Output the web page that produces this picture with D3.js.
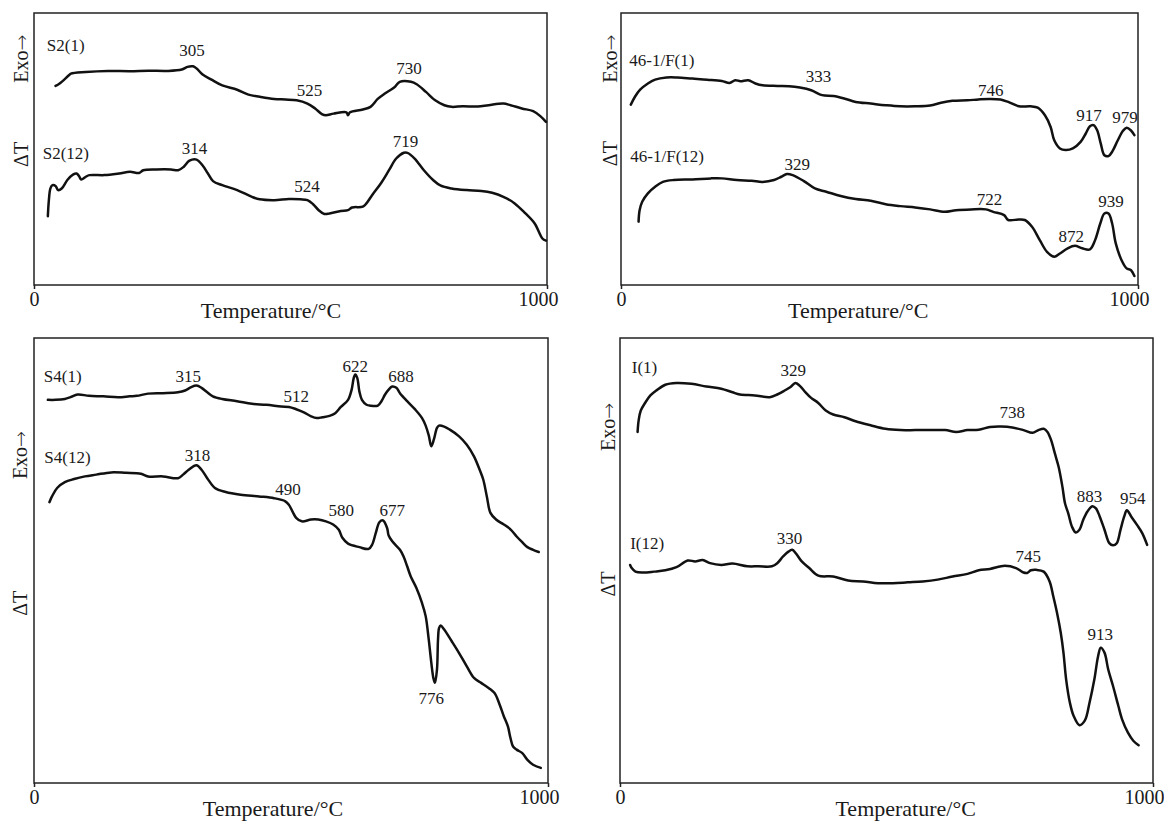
<!DOCTYPE html>
<html>
<head>
<meta charset="utf-8">
<script src="https://cdn.jsdelivr.net/npm/d3@7"></script>
<style>
  html, body { margin: 0; padding: 0; background: #fff; }
  text { font-family: "Liberation Serif", "Times New Roman", serif; fill: #1a1a1a; }
</style>
</head>
<body>
<div id="chart"></div>
<script>
const width = 1164;
const height = 824;

// temperature (°C) vs ΔT (arbitrary units, 0 = bottom of frame, 100 = top)
const xTicks = [0, 1000];

// ----- S2 -----
const s2_1 = [[42,73.2],[50,74.1],[68,77.1],[72,77.7],[101,78.3],[144,78.7],[187,78.6],[223,78.8],[259,78.7],[288,79.2],[299,80.2],[310,80.4],[317,79.6],[328,77.5],[346,75.5],[367,73.4],[396,71.8],[418,70.0],[440,69.2],[468,68.4],[490,68.2],[512,67.9],[533,66.7],[548,64.9],[562,62.7],[569,62.4],[584,63.0],[609,63.5],[612,62.4],[616,63.5],[641,64.5],[656,65.5],[670,68.4],[684,70.4],[702,72.6],[713,74.7],[735,74.7],[746,73.8],[764,71.0],[782,67.9],[800,66.1],[814,65.5],[836,65.7],[865,65.6],[886,66.1],[915,66.7],[929,66.1],[951,64.9],[973,63.9],[987,62.1],[998,60.0]];
const s2_12 = [[27,25.3],[29,31.2],[32,35.5],[36,36.7],[42,36.4],[47,34.9],[54,35.5],[65,38.6],[76,40.6],[83,41.0],[88,40.0],[92,38.8],[101,39.8],[108,40.4],[137,40.4],[166,41.0],[187,41.6],[205,41.2],[213,42.2],[238,42.5],[267,42.5],[281,42.2],[292,43.5],[303,45.7],[317,46.1],[328,44.1],[339,41.0],[349,38.2],[367,36.7],[396,34.9],[425,32.4],[440,31.5],[468,31.2],[497,31.6],[519,31.5],[533,31.2],[544,29.7],[555,27.5],[566,26.1],[576,26.3],[598,27.2],[612,27.5],[620,28.5],[641,28.8],[648,30.0],[659,33.0],[677,37.6],[692,42.2],[706,46.5],[721,48.6],[728,48.6],[742,46.5],[760,42.2],[778,38.6],[793,36.5],[814,35.5],[843,34.9],[872,34.6],[893,33.9],[915,32.4],[937,30.0],[958,26.3],[976,22.6],[991,17.1],[998,16.3]];
const s2Names = [[25, 88.1, "S2(1)"], [17, 48.6, "S2(12)"]];
const s2Peaks = [[308, 86.3, "305"], [537, 71.6, "525"], [731, 79.6, "730"], [313, 50.4, "314"], [532, 36.4, "524"], [724, 52.9, "719"]];

// ----- 46-1/F -----
const f_1 = [[19,66.3],[27,69.2],[37,71.8],[52,74.1],[66,75.5],[88,76.3],[109,76.3],[138,75.9],[167,75.5],[195,75.0],[210,74.3],[221,75.3],[231,74.9],[246,75.3],[260,74.1],[274,73.4],[303,73.2],[325,73.1],[346,72.6],[368,71.6],[389,69.8],[411,69.5],[433,68.5],[454,67.3],[483,66.7],[512,66.1],[540,65.7],[569,65.7],[598,66.0],[619,67.0],[641,67.7],[670,67.9],[691,68.2],[713,68.4],[734,68.2],[749,67.3],[770,65.7],[792,65.7],[806,65.2],[820,62.4],[831,58.1],[838,53.2],[849,50.2],[860,49.6],[874,50.2],[889,52.6],[899,55.7],[907,58.4],[914,58.8],[921,56.9],[928,52.0],[935,47.7],[943,47.4],[950,49.0],[961,53.2],[971,56.7],[978,57.8],[986,56.9],[993,55.1]];
const f_12 = [[34,23.3],[36,27.5],[41,30.6],[52,33.7],[66,36.1],[81,37.9],[102,38.6],[138,38.8],[174,39.2],[195,39.2],[224,38.6],[253,38.3],[274,37.9],[296,38.6],[310,39.8],[321,40.8],[332,40.4],[353,38.3],[375,35.5],[397,34.3],[425,32.7],[454,31.6],[483,31.0],[512,29.7],[540,29.0],[569,28.5],[598,27.8],[626,26.9],[648,27.5],[677,27.8],[706,27.8],[720,26.9],[741,25.7],[749,23.9],[770,24.1],[781,23.9],[795,21.4],[810,16.5],[824,12.2],[838,10.4],[849,11.6],[864,13.5],[878,14.4],[892,13.5],[907,13.1],[917,16.5],[927,22.6],[935,26.3],[943,26.3],[950,22.6],[957,15.3],[968,9.2],[978,6.1],[986,5.5],[993,3.3]];
const fNames = [[16, 82.6, "46-1/F(1)"], [18, 47.5, "46-1/F(12)"]];
const fPeaks = [[382, 76.7, "333"], [715, 71.8, "746"], [905, 62.4, "917"], [975, 61.6, "979"], [341, 44.4, "329"], [713, 31.6, "722"], [871, 18.1, "872"], [948, 31.0, "939"]];

// ----- S4 -----
const s4_1 = [[27,86.1],[42,86.1],[60,86.3],[71,86.7],[85,87.3],[107,87.0],[135,86.9],[164,86.7],[186,86.9],[200,87.0],[222,87.5],[251,87.6],[280,87.8],[294,88.2],[305,88.9],[316,89.3],[326,88.8],[337,87.8],[348,86.9],[366,86.3],[395,85.8],[424,85.2],[452,85.0],[481,84.6],[496,84.5],[510,84.0],[525,83.3],[539,82.4],[550,82.0],[561,82.2],[575,82.5],[586,83.1],[597,84.5],[611,86.1],[618,88.4],[622,91.0],[625,91.8],[629,91.0],[633,88.0],[638,86.1],[647,85.0],[654,84.8],[669,84.8],[676,85.8],[683,87.3],[690,88.4],[697,89.1],[705,88.8],[712,87.6],[726,85.8],[741,84.0],[755,82.0],[762,80.3],[768,78.1],[773,75.7],[778,77.2],[784,79.8],[788,80.3],[798,80.1],[809,79.4],[827,77.9],[842,76.0],[856,73.4],[867,70.4],[874,68.2],[881,64.4],[888,60.7],[899,59.2],[914,58.1],[928,56.9],[939,55.4],[950,54.1],[960,53.0],[971,52.4],[982,51.9]];
const s4_12 = [[30,63.1],[35,64.4],[45,66.3],[60,67.6],[78,68.3],[99,68.9],[121,69.3],[150,69.8],[179,69.7],[208,69.5],[222,68.9],[251,68.9],[280,68.5],[290,69.3],[301,70.4],[316,71.4],[326,70.4],[337,68.5],[352,66.3],[373,65.4],[402,64.8],[438,64.4],[467,64.0],[489,63.3],[496,62.5],[503,61.0],[510,59.6],[521,58.8],[539,59.2],[553,59.2],[568,58.8],[582,58.1],[593,56.9],[600,55.1],[611,53.8],[633,53.0],[651,52.6],[658,53.6],[665,56.2],[672,58.6],[679,59.0],[687,57.3],[690,55.6],[697,54.3],[712,52.4],[719,50.9],[726,48.7],[733,46.4],[744,43.8],[755,40.4],[762,37.5],[768,32.2],[773,27.0],[777,23.6],[780,22.5],[784,25.5],[786,32.2],[788,34.8],[791,35.4],[798,34.5],[813,31.8],[827,29.2],[842,26.2],[856,23.6],[870,22.5],[885,21.3],[896,20.2],[906,17.6],[914,15.0],[922,12.7],[927,10.1],[932,8.2],[939,7.5],[950,6.7],[960,5.2],[971,4.1],[986,3.4]];
const s4Names = [[19, 91.4, "S4(1)"], [20, 73.3, "S4(12)"]];
const s4Peaks = [[300, 91.4, "315"], [510, 87.0, "512"], [625, 93.8, "622"], [714, 91.4, "688"], [318, 73.8, "318"], [494, 66.1, "490"], [598, 61.4, "580"], [697, 61.4, "677"], [773, 19.1, "776"]];

// ----- I -----
const i_1 = [[33,78.9],[35,81.5],[39,83.7],[47,85.4],[57,87.1],[68,88.2],[85,89.5],[106,89.9],[134,89.7],[162,89.1],[190,88.6],[211,87.8],[225,87.3],[253,87.1],[281,86.7],[295,87.3],[309,88.2],[320,89.0],[329,89.9],[337,89.3],[348,87.8],[358,86.6],[372,85.4],[386,83.7],[400,82.8],[421,82.2],[442,81.3],[470,80.4],[498,79.6],[526,79.3],[554,79.3],[582,79.3],[610,79.3],[631,78.9],[652,79.3],[673,79.4],[694,80.0],[715,80.1],[736,79.9],[757,79.3],[774,78.7],[785,79.3],[795,79.6],[802,78.9],[809,77.0],[816,74.0],[823,71.0],[830,66.6],[835,62.8],[841,60.6],[848,57.6],[855,56.3],[862,56.9],[869,59.1],[877,61.0],[886,62.2],[893,61.7],[900,59.9],[909,56.9],[918,53.9],[925,53.4],[932,53.9],[939,56.9],[946,59.9],[951,61.3],[959,59.9],[970,58.0],[980,56.1],[989,53.5]];
const i_12 = [[19,49.0],[22,48.3],[29,47.5],[43,47.3],[64,47.5],[85,47.8],[106,48.5],[127,50.0],[141,49.8],[155,50.1],[169,49.4],[190,49.0],[211,49.3],[239,48.7],[260,48.7],[285,48.7],[295,49.4],[306,50.9],[316,52.0],[323,52.4],[330,51.6],[341,49.8],[355,48.3],[372,46.6],[400,46.4],[428,45.5],[456,45.3],[484,44.9],[512,44.9],[540,45.1],[568,45.3],[596,45.7],[624,46.4],[652,47.0],[673,47.8],[694,48.1],[722,48.8],[743,48.3],[757,47.3],[764,47.2],[771,47.8],[781,47.9],[795,47.5],[806,45.3],[813,41.9],[820,38.2],[827,33.7],[832,29.3],[837,23.3],[844,18.1],[851,15.1],[862,13.0],[872,14.0],[881,18.1],[890,23.3],[897,28.5],[902,30.4],[909,29.3],[916,25.5],[925,21.8],[935,17.3],[942,14.3],[953,11.3],[963,9.5],[973,8.5]];
const iNames = [[22, 93.4, "I(1)"], [19, 54.0, "I(12)"]];
const iPeaks = [[325, 92.7, "329"], [736, 83.4, "738"], [881, 64.5, "883"], [962, 64.0, "954"], [318, 55.0, "330"], [766, 50.9, "745"], [901, 33.4, "913"]];

// panel layout (pixels) and where the axis texts sit
const panels = [
  { left: 34,  top: 13,  w: 513, h: 272, curves: [s2_1, s2_12], names: s2Names, peaks: s2Peaks, titleX: 462, exoY: 83.2, dtY: 48.0, yLabDx: -13 },
  { left: 621, top: 13,  w: 517, h: 272, curves: [f_1, f_12],   names: fNames,  peaks: fPeaks,  titleX: 459, exoY: 83.2, dtY: 48.3, yLabDx: -11 },
  { left: 34,  top: 338, w: 514, h: 445, curves: [s4_1, s4_12], names: s4Names, peaks: s4Peaks, titleX: 465, exoY: 73.7, dtY: 40.4, yLabDx: -14 },
  { left: 620, top: 338, w: 533, h: 445, curves: [i_1, i_12],   names: iNames,  peaks: iPeaks,  titleX: 536, exoY: 80.0, dtY: 44.7, yLabDx: -12 }
];

const svg = d3.select('#chart').append('svg')
  .attr('width', width)
  .attr('height', height);

panels.forEach(p => drawPanel(p));

function drawPanel(p) {
  const g = svg.append('g').attr('transform', `translate(${p.left},${p.top})`);

  const xScale = d3.scaleLinear().domain([0, 1000]).range([0, p.w]);
  const yScale = d3.scaleLinear().domain([0, 100]).range([p.h, 0]);

  // frame
  g.append('rect')
    .attr('width', p.w).attr('height', p.h)
    .attr('fill', 'none').attr('stroke', '#222').attr('stroke-width', 1.5);

  // x axis: only 0 and 1000
  const ax = g.append('g')
    .attr('transform', `translate(0,${p.h})`)
    .call(d3.axisBottom(xScale).tickValues(xTicks).tickFormat(d3.format('d')).tickSize(4).tickPadding(3));
  ax.select('.domain').remove();
  ax.selectAll('line').attr('stroke', '#222').attr('stroke-width', 1.5);
  ax.selectAll('text')
    .style('font-family', '"Liberation Serif", "Times New Roman", serif')
    .style('font-size', '20px').attr('fill', '#1a1a1a')
    .attr('x', d => d === 1000 ? -9 : 0);

  g.append('text')
    .attr('x', xScale(p.titleX)).attr('y', p.h + 33)
    .attr('text-anchor', 'middle')
    .style('font-size', '22px')
    .text('Temperature/°C');

  // rotated y labels, arrow glyph from DejaVu so it is long enough
  const exo = g.append('text')
    .attr('transform', `translate(${p.yLabDx},${yScale(p.exoY)}) rotate(-90)`)
    .attr('text-anchor', 'middle').attr('dy', '0.35em')
    .style('font-size', '20px');
  exo.append('tspan').text('Exo');
  exo.append('tspan')
    .style('font-family', '"DejaVu Sans", sans-serif')
    .style('font-weight', '200')
    .style('font-size', '19px')
    .text('→');

  g.append('text')
    .attr('transform', `translate(${p.yLabDx},${yScale(p.dtY)}) rotate(-90)`)
    .attr('text-anchor', 'middle').attr('dy', '0.35em')
    .style('font-size', '20px')
    .text('ΔT');

  const line = d3.line()
    .x(d => xScale(d[0]))
    .y(d => yScale(d[1]))
    .curve(d3.curveCatmullRom.alpha(0.5));

  g.selectAll('path.curve').data(p.curves)
    .enter().append('path')
    .attr('class', 'curve')
    .attr('d', line)
    .attr('fill', 'none')
    .attr('stroke', '#111')
    .attr('stroke-width', 2.5)
    .attr('stroke-linejoin', 'round')
    .attr('stroke-linecap', 'round');

  // sample names
  g.selectAll('text.name').data(p.names)
    .enter().append('text')
    .attr('class', 'name')
    .attr('x', d => xScale(d[0]))
    .attr('y', d => yScale(d[1]))
    .attr('dy', '0.35em')
    .style('font-size', '17px')
    .text(d => d[2]);

  // peak temperatures
  g.selectAll('text.peak').data(p.peaks)
    .enter().append('text')
    .attr('class', 'peak')
    .attr('x', d => xScale(d[0]))
    .attr('y', d => yScale(d[1]))
    .attr('dy', '0.35em')
    .attr('text-anchor', 'middle')
    .style('font-size', '17px')
    .text(d => d[2]);
}
</script>
</body>
</html>
